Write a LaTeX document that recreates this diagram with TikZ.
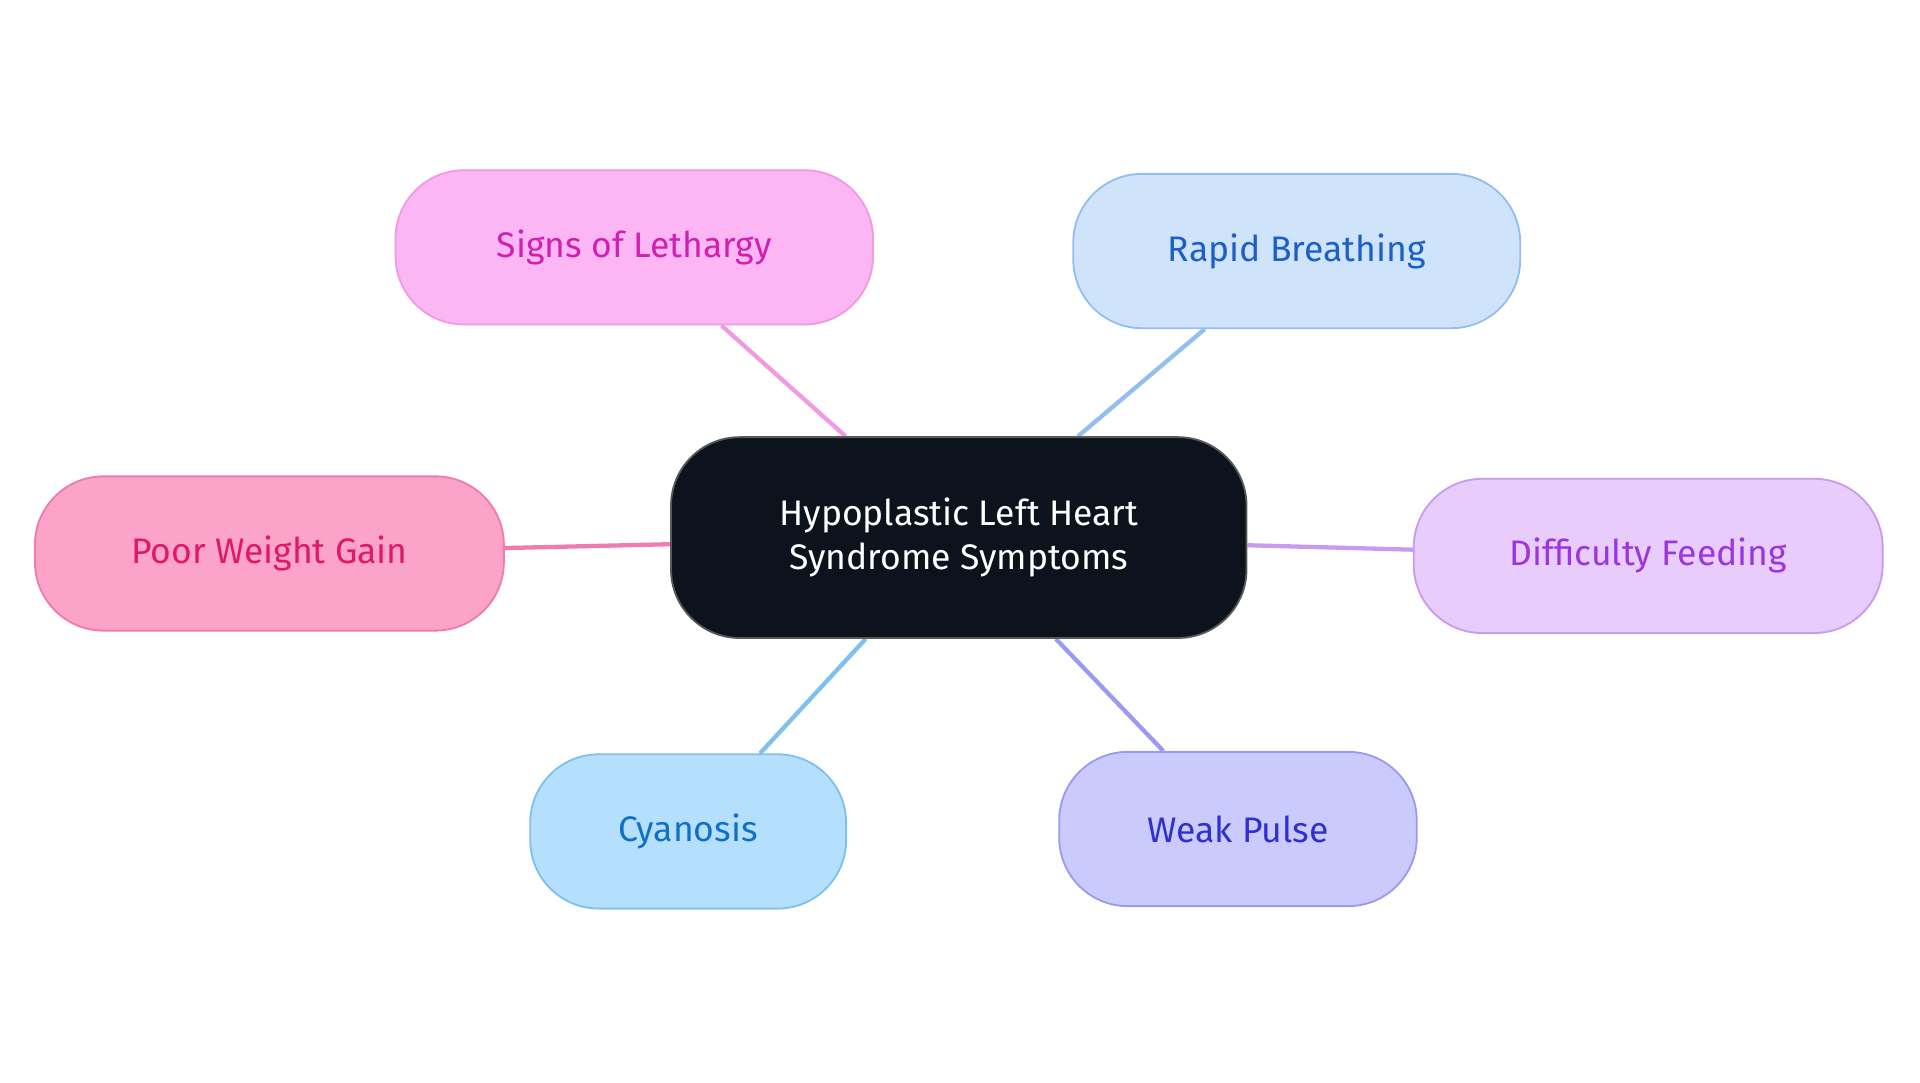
\documentclass[tikz,border=0pt]{standalone}
\usepackage{fontspec}
\setmainfont{Fira Sans}
\usetikzlibrary{backgrounds}
\definecolor{cfill}{HTML}{0D131C}
\tikzset{
 x=1pt,y=-1pt,
 box/.style={draw, line width=1.5pt, rounded corners=56pt, minimum height=126pt, inner sep=0pt, align=center, font=\fontsize{29}{36}\selectfont},
 edge/.style={line width=3.5pt}
}
\begin{document}
\begin{tikzpicture}
\useasboundingbox (0,0) rectangle (1568,884);
\node[box, fill=cfill, draw=gray!70!black, text=white, minimum width=470pt, minimum height=164pt] (c) at (783,439) {Hypoplastic Left Heart\\Syndrome Symptoms};
\node[box, fill={rgb,255:red,253;green,182;blue,244}, draw={rgb,255:red,240;green,154;blue,224}, text={rgb,255:red,208;green,32;blue,176}, minimum width=390pt] (l) at (518,202) {Signs of Lethargy};
\node[box, fill={rgb,255:red,207;green,227;blue,251}, draw={rgb,255:red,147;green,191;blue,240}, text={rgb,255:red,26;green,96;blue,200}, minimum width=365pt] (r) at (1059,205) {Rapid Breathing};
\node[box, fill={rgb,255:red,251;green,163;blue,201}, draw={rgb,255:red,239;green,123;blue,176}, text={rgb,255:red,224;green,24;blue,106}, minimum width=383pt] (p) at (220,452) {Poor Weight Gain};
\node[box, fill={rgb,255:red,232;green,204;blue,252}, draw={rgb,255:red,200;green,154;blue,240}, text={rgb,255:red,154;green,53;blue,224}, minimum width=383pt] (d) at (1346,454) {Difficulty Feeding};
\node[box, fill={rgb,255:red,181;green,224;blue,253}, draw={rgb,255:red,126;green,192;blue,240}, text={rgb,255:red,16;green,112;blue,200}, minimum width=258pt] (cy) at (562,679) {Cyanosis};
\node[box, fill={rgb,255:red,202;green,202;blue,252}, draw={rgb,255:red,154;green,154;blue,240}, text={rgb,255:red,48;green,48;blue,208}, minimum width=292pt] (w) at (1011,677) {Weak Pulse};
\begin{scope}[on background layer]
\draw[edge, draw={rgb,255:red,240;green,154;blue,224}] (c) -- (l);
\draw[edge, draw={rgb,255:red,147;green,191;blue,240}] (c) -- (r);
\draw[edge, draw={rgb,255:red,239;green,123;blue,176}] (c) -- (p);
\draw[edge, draw={rgb,255:red,200;green,154;blue,240}] (c) -- (d);
\draw[edge, draw={rgb,255:red,126;green,192;blue,240}] (c) -- (cy);
\draw[edge, draw={rgb,255:red,154;green,154;blue,240}] (c) -- (w);
\end{scope}
\end{tikzpicture}
\end{document}
